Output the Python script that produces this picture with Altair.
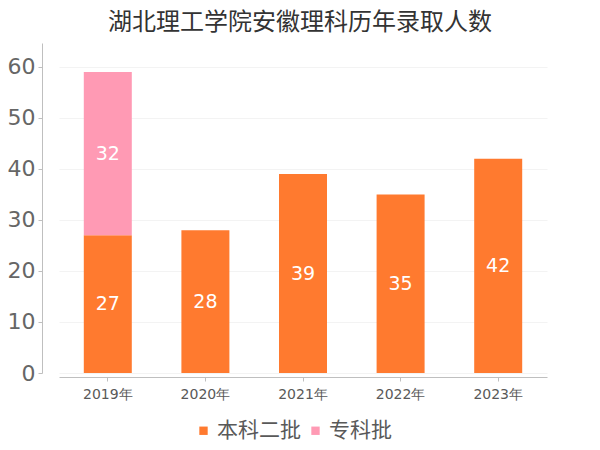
import altair as alt
import pandas as pd

years = ["2019年", "2020年", "2021年", "2022年", "2023年"]
series = ["本科二批", "专科批"]
benke = [27, 28, 39, 35, 42]
zhuanke = [32, None, None, None, None]
colors = ["#ff7a2f", "#ff9ab4"]

rows = []
for i, y in enumerate(years):
    rows.append({"year": y, "batch": series[0], "value": benke[i], "ord": 0})
    if zhuanke[i] is not None:
        rows.append({"year": y, "batch": series[1], "value": zhuanke[i], "ord": 1})
df = pd.DataFrame(rows)

CJK = "Noto Sans CJK SC"
NUM = "DejaVu Sans"

base = alt.Chart(df).encode(
    x=alt.X("year:N", sort=years, title=None,
            scale=alt.Scale(range=[17, 505]),
            axis=alt.Axis(labelAngle=0, labelFont=NUM, labelFontSize=14, labelColor="#595959",
                          domainColor="#bfbfbf", tickColor="#bfbfbf", tickSize=4,
                          labelPadding=6, offset=4, grid=False)),
)

bars = base.mark_bar(size=48).encode(
    y=alt.Y("value:Q", stack="zero", title=None,
            scale=alt.Scale(domain=[0, 64.7], nice=False),
            axis=alt.Axis(values=[0, 10, 20, 30, 40, 50, 60], labelFont=NUM, labelFontSize=22,
                          labelColor="#666666", domainColor="#bfbfbf", tickColor="#bfbfbf",
                          tickSize=4, labelPadding=3, gridColor="#f3f3f3", grid=True)),
    color=alt.Color("batch:N", sort=series,
                    scale=alt.Scale(domain=series, range=colors),
                    legend=alt.Legend(title=None, orient="none", direction="horizontal",
                                      legendX=151, legendY=377, symbolType="square",
                                      symbolSize=70, symbolStrokeWidth=0, labelFont=CJK,
                                      labelFontSize=21, labelColor="#595959",
                                      columnPadding=4, labelOffset=3)),
    order=alt.Order("ord:Q"),
)

labels = base.mark_text(color="white", font=NUM, fontSize=19, baseline="middle").encode(
    y=alt.Y("mid:Q"),
    text=alt.Text("value:Q"),
).transform_stack(
    stack="value", groupby=["year"], as_=["lo", "hi"], sort=[alt.SortField("ord")]
).transform_calculate(mid="(datum.lo + datum.hi) / 2")

chart = alt.layer(bars, labels).properties(
    width=546, height=330,
    title=alt.TitleParams("湖北理工学院安徽理科历年录取人数", font=CJK, fontSize=24,
                          fontWeight="normal", color="#333333", anchor="middle",
                          dx=-15, offset=8),
    autosize=alt.AutoSizeParams(type="none"),
    padding={"left": 34, "top": 35, "right": 4, "bottom": 69},
).configure_view(stroke=None)

chart.save("out.html", embed_options={"renderer": "svg", "actions": False})
